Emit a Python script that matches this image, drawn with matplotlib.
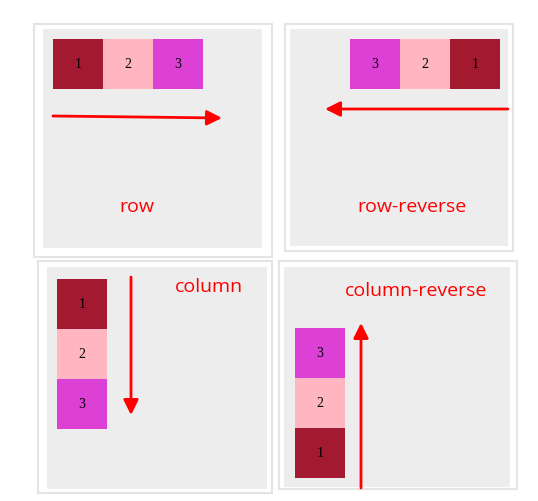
import matplotlib
matplotlib.use("Agg")
import matplotlib.pyplot as plt
from matplotlib.patches import Rectangle, FancyArrowPatch

W, H = 538, 502
labels = ["row", "row-reverse", "column", "column-reverse"]
item_labels = ["1", "2", "3"]
item_colors = ["#a3192f", "#ffb6c1", "#dd40d5"]

fig = plt.figure(figsize=(W/100, H/100), dpi=100)
ax = fig.add_axes([0, 0, 1, 1])
ax.set_xlim(0, W); ax.set_ylim(H, 0); ax.axis("off")

panels = [
    dict(outer=(34, 25, 272, 258), inner=(43, 30, 262, 249), order=[0, 1, 2], start=(53, 40), dx=50, dy=0,
         arrow=((53, 117), (222, 119)), text=(137, 207)),
    dict(outer=(285, 25, 513, 252), inner=(290, 30, 508, 247), order=[2, 1, 0], start=(350, 40), dx=50, dy=0,
         arrow=((508, 110), (325, 110)), text=(412, 207)),
    dict(outer=(38, 262, 272, 494), inner=(47, 268, 267, 490), order=[0, 1, 2], start=(57, 280), dx=0, dy=50,
         arrow=((131, 278), (131, 416)), text=(209, 287)),
    dict(outer=(279, 262, 517, 490), inner=(284, 268, 510, 488), order=[2, 1, 0], start=(295, 329), dx=0, dy=50,
         arrow=((361, 489), (361, 324)), text=(416, 291)),
]

for lab, p in zip(labels, panels):
    x0, y0, x1, y1 = p["outer"]
    ax.add_patch(Rectangle((x0, y0), x1-x0, y1-y0, fc="white", ec="#e4e4e4", lw=1.5))
    x0, y0, x1, y1 = p["inner"]
    ax.add_patch(Rectangle((x0, y0), x1-x0, y1-y0, fc="#ededed", ec="none"))
    sx, sy = p["start"]
    for k, i in enumerate(p["order"]):
        bx, by = sx + k*p["dx"], sy + k*p["dy"]
        ax.add_patch(Rectangle((bx, by), 50, 50, fc=item_colors[i], ec="none"))
        ax.text(bx+25, by+25, item_labels[i], ha="center", va="center",
                fontsize=10, family="Liberation Serif", color="black")
    a, b = p["arrow"]
    ax.add_patch(FancyArrowPatch(a, b, arrowstyle="-|>,head_length=6,head_width=3",
                                 color="red", lw=2, mutation_scale=1.5, shrinkA=0, shrinkB=0))
    ax.text(*p["text"], lab, ha="center", va="center", fontsize=14, color="red", family="Open Sans")

fig.savefig("out.png", dpi=100)
